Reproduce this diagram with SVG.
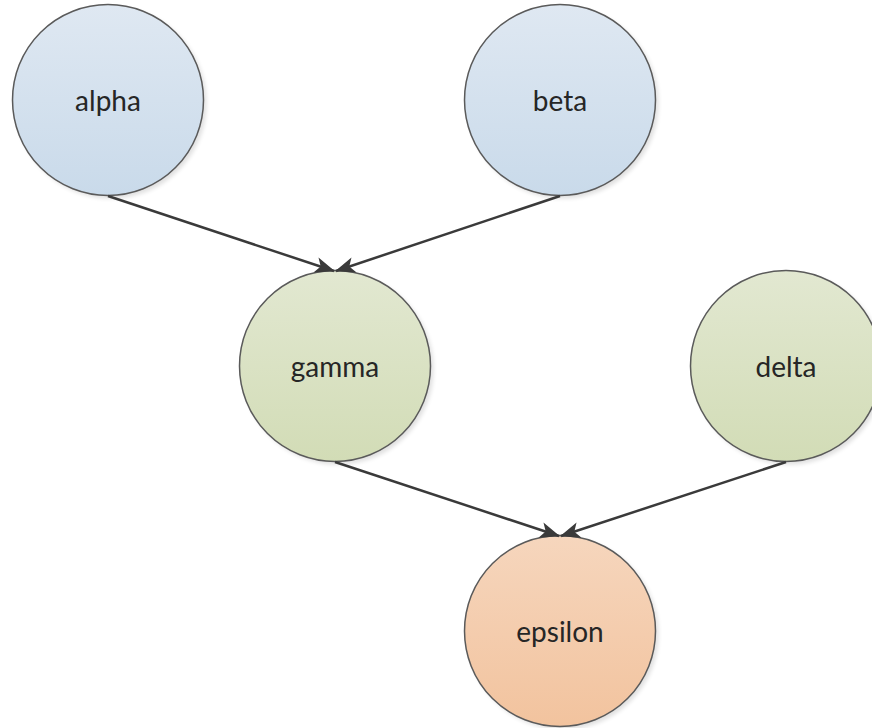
<svg xmlns="http://www.w3.org/2000/svg" width="872" height="728" viewBox="0 0 872 728">
  <style>
    .node circle.body { stroke: #5a5a5a; stroke-width: 1.5; }
    .node circle.shade { fill: #000; opacity: 0.12; filter: url(#soft); }
    .node text { font-family: "Lato", "Open Sans", "Liberation Sans", sans-serif; font-size: 28px; fill: #262626; text-anchor: middle; }
    .edges line { stroke: #3a3a3a; stroke-width: 2.5; marker-end: url(#arrow); }
  </style>
  <defs>
    <linearGradient id="blue" x1="0" y1="0" x2="0" y2="1">
      <stop offset="0" stop-color="#dfe8f2"/>
      <stop offset="1" stop-color="#c9daea"/>
    </linearGradient>
    <linearGradient id="green" x1="0" y1="0" x2="0" y2="1">
      <stop offset="0" stop-color="#e2e8d1"/>
      <stop offset="1" stop-color="#d2dcb6"/>
    </linearGradient>
    <linearGradient id="orange" x1="0" y1="0" x2="0" y2="1">
      <stop offset="0" stop-color="#f6d6bd"/>
      <stop offset="1" stop-color="#f2c39e"/>
    </linearGradient>
    <filter id="soft" x="-10%" y="-10%" width="120%" height="120%">
      <feGaussianBlur stdDeviation="2"/>
    </filter>
    <marker id="arrow" viewBox="0 0 20 16" refX="19" refY="8" markerWidth="20" markerHeight="16" markerUnits="userSpaceOnUse" orient="auto">
      <path d="M0,0 L20,8 L0,16 L5,8 Z" fill="#3a3a3a"/>
    </marker>
  </defs>

  <g id="alpha" class="node">
    <circle class="shade" cx="111" cy="103" r="95.5"/>
    <circle class="body" cx="108" cy="100" r="95.5" fill="url(#blue)"/>
    <text x="108" y="111">alpha</text>
  </g>
  <g id="beta" class="node">
    <circle class="shade" cx="563" cy="103" r="95.5"/>
    <circle class="body" cx="560" cy="100" r="95.5" fill="url(#blue)"/>
    <text x="560" y="111">beta</text>
  </g>
  <g id="gamma" class="node">
    <circle class="shade" cx="338" cy="369" r="95.5"/>
    <circle class="body" cx="335" cy="366" r="95.5" fill="url(#green)"/>
    <text x="335" y="377">gamma</text>
  </g>
  <g id="delta" class="node">
    <circle class="shade" cx="789" cy="369" r="95.5"/>
    <circle class="body" cx="786" cy="366" r="95.5" fill="url(#green)"/>
    <text x="786" y="377">delta</text>
  </g>
  <g id="epsilon" class="node">
    <circle class="shade" cx="563" cy="634" r="95.5"/>
    <circle class="body" cx="560" cy="631" r="95.5" fill="url(#orange)"/>
    <text x="560" y="642">epsilon</text>
  </g>

  <g id="edges" class="edges">
    <line x1="108" y1="196" x2="334" y2="271"/>
    <line x1="560" y1="196" x2="336" y2="271"/>
    <line x1="335" y1="462" x2="559" y2="536"/>
    <line x1="786" y1="462" x2="561" y2="536"/>
  </g>
</svg>
